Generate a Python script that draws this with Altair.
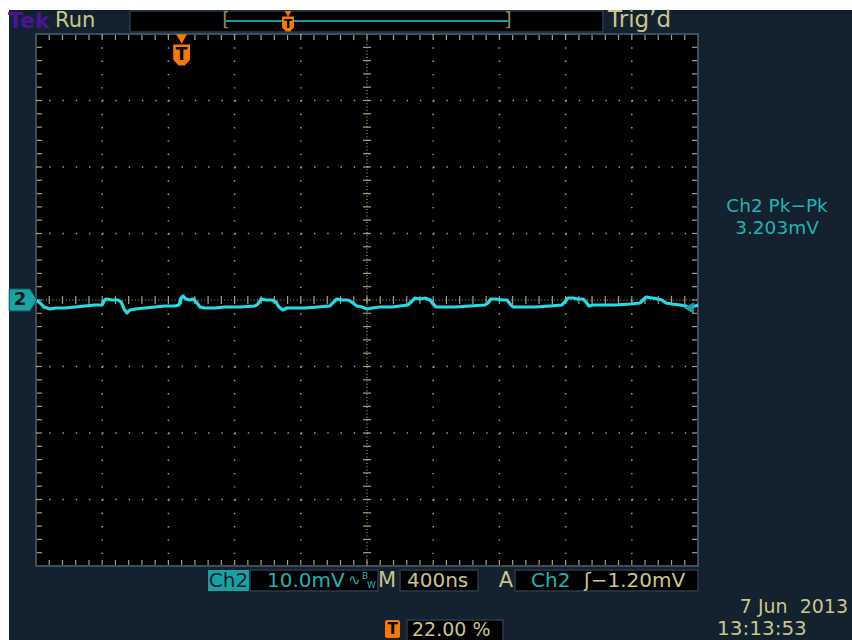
import altair as alt
import pandas as pd

# ---- Acquisition: Ch2, 10.0 mV/div, 400 ns/div, 10 x 8 divisions ----
time_ns = [0, 24, 48, 85, 121, 175, 236, 296, 356, 399, 411, 423, 459, 495, 514, 532, 550, 568,
           604, 659, 719, 779, 840, 864, 876, 888, 906, 930, 949, 973, 991, 1021, 1082, 1142,
           1233, 1323, 1341, 1359, 1390, 1426, 1450, 1468, 1492, 1517, 1565, 1625, 1704, 1776,
           1800, 1818, 1848, 1885, 1915, 1939, 1969, 2000, 2030, 2078, 2151, 2199, 2248, 2272,
           2290, 2320, 2350, 2381, 2399, 2417, 2453, 2532, 2622, 2713, 2731, 2749, 2779, 2816,
           2846, 2864, 2882, 2924, 3015, 3106, 3178, 3196, 3214, 3245, 3275, 3305, 3323, 3341,
           3366, 3414, 3498, 3589, 3650, 3668, 3686, 3722, 3758, 3782, 3806, 3843, 3891, 3927,
           3945, 3963, 4000]
ch2_mv = [0.0, -0.45, -1.05, -1.35, -1.2, -1.2, -1.05, -0.9, -0.75, -0.75, -0.15, 0.15, 0.0, 0.0,
          -0.3, -1.35, -1.95, -1.5, -1.35, -1.2, -1.05, -0.9, -0.9, -0.75, 0.3, 0.6, 0.15, 0.0,
          0.15, -0.45, -1.05, -1.2, -1.2, -1.05, -1.05, -0.9, -0.6, 0.15, 0.0, 0.0, -0.3, -1.05,
          -1.5, -1.2, -1.2, -1.2, -1.05, -0.9, -0.3, 0.15, 0.0, 0.0, -0.45, -0.9, -1.05, -1.35,
          -1.2, -1.05, -1.05, -0.9, -0.75, -0.15, 0.3, 0.15, 0.3, 0.0, -0.6, -1.05, -1.05, -1.05,
          -0.9, -0.75, -0.45, 0.15, 0.15, 0.0, 0.0, -0.6, -1.05, -1.05, -1.05, -0.9, -0.75, -0.3,
          0.3, 0.3, 0.15, 0.15, -0.3, -0.9, -0.75, -0.75, -0.75, -0.6, -0.45, 0.0, 0.45, 0.3,
          0.15, 0.0, -0.45, -0.6, -0.75, -0.9, -1.35, -1.05, -0.75]

trigger_pct = 22.0
trigger_level_mv = -1.20
record_ns = 4000
volts_per_div = 10.0
ns_per_div = 400

NAVY = "#14212f"
TAN = "#c9c58c"
TEAL = "#1fb3b6"
CYAN = "#22dde6"
ORANGE = "#f47a00"
GRID = "#a29f82"
FONT = "DejaVu Sans"
SHIELD = "M-0.8,-1 L0.8,-1 L0.8,0.45 L0.3,1 L-0.3,1 L-0.8,0.45 Z"
NBSP = "\u00a0"

X = alt.Scale(domain=[0, record_ns], range=[36, 698])
Y = alt.Scale(domain=[-4 * volts_per_div, 4 * volts_per_div], range=[566, 34])

one = pd.DataFrame({"k": [0]})


def px_rect(x0, x1, y0, y1, fill, stroke=None, sw=1, radius=0):
    kw = dict(fill=fill, cornerRadius=radius)
    if stroke:
        kw.update(stroke=stroke, strokeWidth=sw)
    return alt.Chart(one).mark_rect(**kw).encode(
        x=alt.value(x0), x2=alt.value(x1), y=alt.value(y0), y2=alt.value(y1))


def px_text(txt, x, y, color, size=17, align="left", weight="normal"):
    return alt.Chart(one).mark_text(
        text=txt, color=color, fontSize=size, font=FONT, align=align,
        baseline="middle", fontWeight=weight).encode(x=alt.value(x), y=alt.value(y))


# instrument frame
frame = px_rect(9, 852, 10, 640, NAVY)

screen = alt.Chart(pd.DataFrame({"t0": [0], "t1": [record_ns], "v0": [-40], "v1": [40]})).mark_rect(
    fill="black", stroke="#3e4c5c", strokeWidth=2).encode(
    x=alt.X("t0:Q", scale=X, axis=None), x2="t1:Q",
    y=alt.Y("v1:Q", scale=Y, axis=None), y2="v0:Q")

# graticule: division lines
vdiv = pd.DataFrame({"t": [ns_per_div * i for i in range(1, 10) if i != 5], "lo": -40, "hi": 40})
hdiv = pd.DataFrame({"v": [-30, -20, -10, 10, 20, 30], "t0": 0, "t1": record_ns})
vgrid = alt.Chart(vdiv).mark_rule(color=GRID, strokeWidth=1.5, strokeDash=[1.4, 11.9]).encode(
    x=alt.X("t:Q", scale=X, axis=None), y=alt.Y("hi:Q", scale=Y, axis=None), y2="lo:Q")
hgrid = alt.Chart(hdiv).mark_rule(color=GRID, strokeWidth=1.5, strokeDash=[1.4, 11.84]).encode(
    y=alt.Y("v:Q", scale=Y, axis=None), x=alt.X("t0:Q", scale=X, axis=None), x2="t1:Q")

# center cross, densely dotted
cv = alt.Chart(pd.DataFrame({"t": [2000], "lo": [-40], "hi": [40]})).mark_rule(
    color=GRID, strokeWidth=1.2, strokeDash=[1, 2.3]).encode(
    x=alt.X("t:Q", scale=X, axis=None), y=alt.Y("hi:Q", scale=Y, axis=None), y2="lo:Q")
ch = alt.Chart(pd.DataFrame({"v": [0], "t0": [0], "t1": [record_ns]})).mark_rule(
    color=GRID, strokeWidth=1.2, strokeDash=[1, 2.3]).encode(
    y=alt.Y("v:Q", scale=Y, axis=None), x=alt.X("t0:Q", scale=X, axis=None), x2="t1:Q")

minor_t = [80 * i for i in range(1, 50)]
minor_v = [-40 + 2 * i for i in range(1, 40)]

ctick_v = alt.Chart(pd.DataFrame({"v": minor_v, "t": 2000})).mark_rule(
    color=GRID, strokeWidth=1.2, xOffset=-4, x2Offset=4).encode(
    x=alt.X("t:Q", scale=X, axis=None), x2="t:Q", y=alt.Y("v:Q", scale=Y, axis=None))
ctick_h = alt.Chart(pd.DataFrame({"t": minor_t, "v": 0})).mark_rule(
    color=GRID, strokeWidth=1.2, yOffset=-4, y2Offset=4).encode(
    x=alt.X("t:Q", scale=X, axis=None), y=alt.Y("v:Q", scale=Y, axis=None), y2="v:Q")

# edge ticks
edge_top = alt.Chart(pd.DataFrame({"t": minor_t, "v": 40})).mark_rule(
    color=GRID, strokeWidth=1.2, yOffset=1, y2Offset=6).encode(
    x=alt.X("t:Q", scale=X, axis=None), y=alt.Y("v:Q", scale=Y, axis=None), y2="v:Q")
edge_bot = alt.Chart(pd.DataFrame({"t": minor_t, "v": -40})).mark_rule(
    color=GRID, strokeWidth=1.2, yOffset=-6, y2Offset=-1).encode(
    x=alt.X("t:Q", scale=X, axis=None), y=alt.Y("v:Q", scale=Y, axis=None), y2="v:Q")
edge_left = alt.Chart(pd.DataFrame({"v": minor_v, "t": 0})).mark_rule(
    color=GRID, strokeWidth=1.2, xOffset=1, x2Offset=6).encode(
    x=alt.X("t:Q", scale=X, axis=None), x2="t:Q", y=alt.Y("v:Q", scale=Y, axis=None))
edge_right = alt.Chart(pd.DataFrame({"v": minor_v, "t": record_ns})).mark_rule(
    color=GRID, strokeWidth=1.2, xOffset=-6, x2Offset=-1).encode(
    x=alt.X("t:Q", scale=X, axis=None), x2="t:Q", y=alt.Y("v:Q", scale=Y, axis=None))

# the Ch2 waveform
wave = pd.DataFrame({"t": time_ns, "mv": ch2_mv})
trace = alt.Chart(wave).mark_line(color=CYAN, strokeWidth=3.2, interpolate="linear",
                                  strokeJoin="round").encode(
    x=alt.X("t:Q", scale=X, axis=None), y=alt.Y("mv:Q", scale=Y, axis=None))

# trigger-level marker on the right edge
trig_lvl = alt.Chart(pd.DataFrame({"t": [record_ns - 55], "mv": [trigger_level_mv]})).mark_point(
    shape="triangle-left", filled=True, color="#1a9fa3", size=130, opacity=1).encode(
    x=alt.X("t:Q", scale=X, axis=None), y=alt.Y("mv:Q", scale=Y, axis=None))

# channel 2 ground marker
gnd = alt.Chart(pd.DataFrame({"mv": [0]})).mark_point(
    shape="M-1,-0.8 L0.5,-0.8 L1,0 L0.5,0.8 L-1,0.8 Z", filled=True, color="#1aa3a5",
    size=760, opacity=1, stroke="#0c5e60", strokeWidth=1).encode(
    x=alt.value(23), y=alt.Y("mv:Q", scale=Y, axis=None))
gnd_lbl = alt.Chart(pd.DataFrame({"mv": [0]})).mark_text(
    text="2", color="#061418", fontSize=18, font=FONT, fontWeight="bold", baseline="middle").encode(
    x=alt.value(20), y=alt.Y("mv:Q", scale=Y, axis=None))

# trigger position marker at the top of the screen
tpos = pd.DataFrame({"t": [record_ns * trigger_pct / 100]})
t_tri = alt.Chart(tpos).mark_point(shape="triangle-down", filled=True, color=ORANGE, size=120,
                                   opacity=1).encode(
    x=alt.X("t:Q", scale=X, axis=None), y=alt.value(39))
t_body = alt.Chart(tpos).mark_point(shape=SHIELD, filled=True, color=ORANGE, size=441,
                                    opacity=1).encode(
    x=alt.X("t:Q", scale=X, axis=None), y=alt.value(55))
t_txt = alt.Chart(tpos).mark_text(text="T", color="black", fontSize=17, font=FONT,
                                  fontWeight="bold", baseline="middle").encode(
    x=alt.X("t:Q", scale=X, axis=None), y=alt.value(55))

# top status bar
top_box = px_rect(130, 603, 11, 32, "black", "#2a3a4c", 1.5)
rec_line = alt.Chart(one).mark_rule(color="#1a9a9c", strokeWidth=2).encode(
    x=alt.value(226), x2=alt.value(508), y=alt.value(21))
br_l = px_text("[", 226, 20, "#8e8b6a", 19, "center")
br_r = px_text("]", 508, 20, "#8e8b6a", 19, "center")
rec_pos = 226 + (508 - 226) * trigger_pct / 100
mini_tri = alt.Chart(one).mark_point(shape="triangle-down", filled=True, color=ORANGE, size=45,
                                     opacity=1).encode(x=alt.value(rec_pos), y=alt.value(14))
mini_body = alt.Chart(one).mark_point(shape=SHIELD, filled=True, color=ORANGE, size=220,
                                      opacity=1).encode(x=alt.value(rec_pos), y=alt.value(24))
mini_t = px_text("T", rec_pos, 24, "black", 12, "center", "bold")

tek = px_text("Tek", 8, 21, "#4a1496", 22, "left", "bold")
run = px_text("Run", 55, 21, TAN, 21)
trigd = px_text("Trig’d", 608, 20, TAN, 23)

# measurement readout
meas1 = px_text("Ch2 Pk−Pk", 777, 206, TEAL, 18.5, "center")
meas2 = px_text("3.203mV", 777, 228, TEAL, 18.5, "center")

# bottom readouts
ch_box = px_rect(208, 249, 570, 591, "#1aa0a3")
ch_txt = px_text("Ch2", 228.5, 581, "#0f2030", 20, "center")
v_box = px_rect(250, 378, 570, 591, "black", "#2a3a4c", 1.5)
v_txt = px_text("10.0mV", 267, 581, TEAL, 20)
bw1 = px_text("∿", 348, 580, TEAL, 15)
bw2 = px_text("B", 362, 576, TEAL, 9)
bw3 = px_text("W", 367, 585, TEAL, 9)
m_txt = px_text("M", 387, 581, TAN, 21, "center")
h_box = px_rect(400, 478, 570, 591, "black", "#2a3a4c", 1.5)
h_txt = px_text("400ns", 407, 581, TAN, 20)
a_txt = px_text("A", 506, 581, TAN, 21, "center")
trg_box = px_rect(515, 698, 570, 591, "black", "#2a3a4c", 1.5)
trg_ch = px_text("Ch2", 531, 581, TEAL, 20)
trg_lv = px_text("ʃ−1.20mV", 584, 581, TAN, 20)

tp_box = px_rect(385, 400, 620, 638, ORANGE, radius=2)
tp_t = px_text("T", 392.5, 629, "black", 15, "center", "bold")
pct_box = px_rect(407, 503, 620, 641, "black", "#2a3a4c", 1.5)
pct_txt = px_text(f"{trigger_pct:.2f}{NBSP}%", 412, 630, TAN, 19)

date_txt = px_text(f"7{NBSP}Jun{NBSP}{NBSP}2013", 848, 607, TAN, 19, "right")
time_txt = px_text("13:13:53", 717, 629, TAN, 20)

chart = alt.layer(
    frame, screen, vgrid, hgrid, cv, ch, ctick_v, ctick_h,
    edge_top, edge_bot, edge_left, edge_right,
    trace, trig_lvl, gnd, gnd_lbl, t_tri, t_body, t_txt,
    top_box, rec_line, br_l, br_r, mini_tri, mini_body, mini_t, tek, run, trigd,
    meas1, meas2,
    ch_box, ch_txt, v_box, v_txt, bw1, bw2, bw3, m_txt, h_box, h_txt, a_txt,
    trg_box, trg_ch, trg_lv, tp_box, tp_t, pct_box, pct_txt, date_txt, time_txt,
).properties(
    width=852, height=640, padding=0, background="white",
    autosize=alt.AutoSizeParams(type="none"),
).configure_view(stroke=None)

chart.save("out.html", embed_options={"renderer": "svg", "actions": False})
